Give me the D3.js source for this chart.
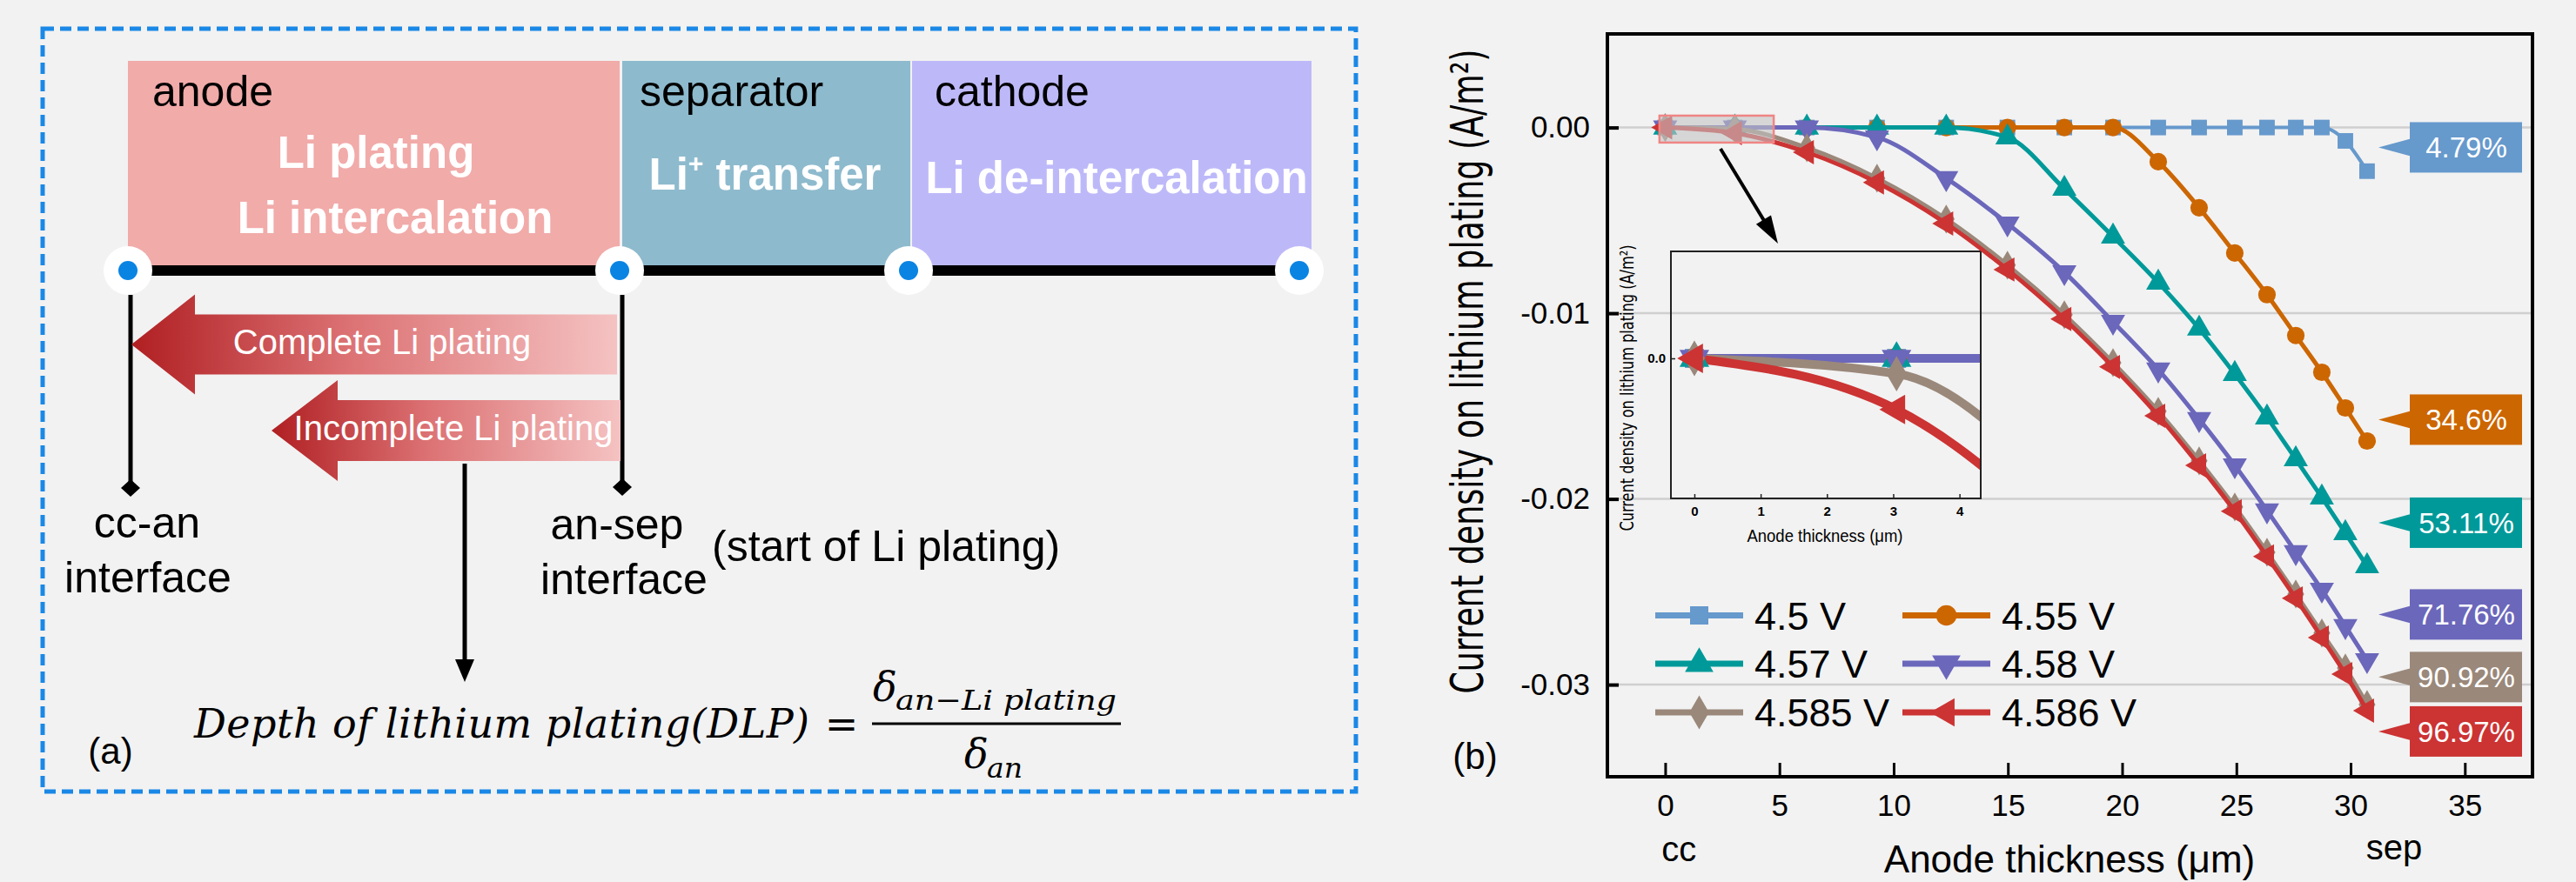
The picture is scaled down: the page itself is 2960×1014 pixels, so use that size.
<!DOCTYPE html>
<html><head><meta charset="utf-8">
<script src="https://cdn.jsdelivr.net/npm/d3@7"></script>
<style>html,body{margin:0;padding:0;background:#f2f2f2;} svg{display:block;}</style>
</head><body><svg id="c" width="2960" height="1014"></svg>
<script>
// ---------------- DATA ----------------
const thickness = [0, 3.05, 6.2, 9.27, 12.3, 14.98, 17.47, 19.6, 21.58, 23.37, 24.93, 26.34, 27.6, 28.74, 29.77, 30.72];
const seriesNames = ["4.5 V", "4.55 V", "4.57 V", "4.58 V", "4.585 V", "4.586 V"];
const v4500 = [0, 0, 0, 0, 0, 0, 0, 0, 0, 0, 0, 0, 0, 0, -0.00072, -0.00235];
const v4550 = [0, 0, 0, 0, 0, 0, 0, 0, -0.00184, -0.00432, -0.00676, -0.0090, -0.0112, -0.01318, -0.01510, -0.01688];
const v4570 = [0, 0, 0, 0, 0, -0.00053, -0.0033, -0.00587, -0.00835, -0.01083, -0.01327, -0.01561, -0.01786, -0.01992, -0.02184, -0.02362];
const v4580 = [0, 0, 0, -0.00053, -0.00273, -0.00517, -0.00779, -0.01046, -0.01303, -0.0157, -0.01819, -0.02062, -0.02287, -0.02489, -0.02685, -0.02868];
const v4585 = [0, -0.00009, -0.00109, -0.00273, -0.00493, -0.00741, -0.01008, -0.01266, -0.01528, -0.01795, -0.02043, -0.02287, -0.02512, -0.02722, -0.0291, -0.03107];
const v4586 = [0, -0.0003, -0.00133, -0.00296, -0.00517, -0.00765, -0.01031, -0.01289, -0.01552, -0.01819, -0.02066, -0.0231, -0.02535, -0.02746, -0.02943, -0.0314];
const dlpLabels = ["4.79%", "34.6%", "53.11%", "71.76%", "90.92%", "96.97%"];
const dlpLabelY = [-0.00107, -0.01573, -0.02128, -0.02622, -0.02959, -0.03252];
const xTicks = [0, 5, 10, 15, 20, 25, 30, 35];
const yTicks = [0, -0.01, -0.02, -0.03];
const yTickLabels = ["0.00", "-0.01", "-0.02", "-0.03"];
const insetXTicks = [0, 1, 2, 3, 4];
const insetYTicks = [0];
const insetYTickLabels = ["0.0"];
const zoomWindowX = [-0.25, 4.75];
const zoomWindowY = [-0.00081, 0.00064];

// ---------------- STYLE ----------------
const colors = ["#6699cc", "#cc6600", "#009999", "#6b67bb", "#9a887a", "#cc3333"];
const symTypes = [d3.symbolSquare, d3.symbolCircle, d3.symbolTriangle, d3.symbolTriangle, d3.symbolDiamond, d3.symbolTriangle];
const symRot = [0, 0, 0, 180, 0, -90];
const symScale = [1, 1, 1.05, 1.05, 1.0, 1.05];
const SANS = "'Liberation Sans', Arial, sans-serif";

const allValues = [v4500, v4550, v4570, v4580, v4585, v4586];
const series = seriesNames.map((n, i) => ({
  name: n, color: colors[i], sym: symTypes[i], rot: symRot[i], k: symScale[i],
  pts: thickness.map((t, j) => [t, allValues[i][j]])
}));

const svg = d3.select("#c");
svg.append("rect").attr("width", 2960).attr("height", 1014).attr("fill", "#f2f2f2");
const defs = svg.append("defs");

// ================= PANEL (a) =================
const A = svg.append("g");
A.append("rect").attr("x", 49).attr("y", 33).attr("width", 1509).attr("height", 877)
  .attr("fill", "none").attr("stroke", "#1a88e6").attr("stroke-width", 5).attr("stroke-dasharray", "13 7");

const regions = [
  {name: "anode", x0: 147, x1: 712, fill: "#f1aba9"},
  {name: "separator", x0: 715, x1: 1046, fill: "#8ebacd"},
  {name: "cathode", x0: 1048, x1: 1507, fill: "#bdb9f9"}
];
regions.forEach(r => {
  A.append("rect").attr("x", r.x0).attr("y", 70).attr("width", r.x1 - r.x0).attr("height", 238).attr("fill", r.fill);
});
A.append("text").attr("x", 175).attr("y", 122).text("anode").attr("font-family", SANS).attr("font-size", 50).attr("fill", "#000");
A.append("text").attr("x", 735).attr("y", 122).text("separator").attr("font-family", SANS).attr("font-size", 50).attr("fill", "#000");
A.append("text").attr("x", 1074).attr("y", 122).text("cathode").attr("font-family", SANS).attr("font-size", 50).attr("fill", "#000");
const wb = (x, yy, t) => A.append("text").attr("x", x).attr("y", yy).attr("text-anchor", "middle")
  .attr("font-family", SANS).attr("font-weight", "bold").attr("font-size", 51).attr("fill", "#fff").text(t);
wb(432, 193, "Li plating");
wb(454, 268, "Li intercalation");
wb(1283, 222, "Li de-intercalation");
const lt = A.append("text").attr("x", 879).attr("y", 218).attr("text-anchor", "middle")
  .attr("font-family", SANS).attr("font-weight", "bold").attr("font-size", 51).attr("fill", "#fff");
lt.append("tspan").text("Li");
lt.append("tspan").text("+").attr("font-size", 30).attr("dy", -20);
lt.append("tspan").text(" transfer").attr("dy", 20);

A.append("line").attr("x1", 147).attr("x2", 1493).attr("y1", 311).attr("y2", 311).attr("stroke", "#000").attr("stroke-width", 12);
[147, 712, 1044, 1493].forEach(cx => {
  A.append("circle").attr("cx", cx).attr("cy", 311).attr("r", 28).attr("fill", "#fff");
  A.append("circle").attr("cx", cx).attr("cy", 311).attr("r", 11).attr("fill", "#0a84e3");
});

// vertical marker lines with diamonds
[[150, 561], [715, 560]].forEach(([vx, vy]) => {
  A.append("line").attr("x1", vx).attr("x2", vx).attr("y1", 339).attr("y2", vy).attr("stroke", "#000").attr("stroke-width", 5);
  A.append("path").attr("d", `M${vx},${vy - 10}L${vx + 11},${vy}L${vx},${vy + 10}L${vx - 11},${vy}Z`).attr("fill", "#000");
});

// gradient arrows
const grad = defs.append("linearGradient").attr("id", "ag").attr("x1", "0%").attr("x2", "100%").attr("y1", "0%").attr("y2", "0%");
grad.append("stop").attr("offset", "0%").attr("stop-color", "#b01f22");
grad.append("stop").attr("offset", "45%").attr("stop-color", "#dc7274");
grad.append("stop").attr("offset", "100%").attr("stop-color", "#f5c2c2");
function bigArrow(tipX, headX, endX, cy, bodyH, headH) {
  const pts = [[tipX, cy], [headX, cy - headH / 2], [headX, cy - bodyH / 2], [endX, cy - bodyH / 2],
    [endX, cy + bodyH / 2], [headX, cy + bodyH / 2], [headX, cy + headH / 2]];
  A.append("polygon").attr("points", pts.map(p => p.join(",")).join(" ")).attr("fill", "url(#ag)");
}
bigArrow(151, 224, 709, 396, 69, 115);
bigArrow(312, 388, 713, 495, 70, 116);
A.append("text").attr("x", 439).attr("y", 407).attr("text-anchor", "middle").attr("font-family", SANS)
  .attr("font-size", 40).attr("fill", "#fff").text("Complete Li plating");
A.append("text").attr("x", 521).attr("y", 506).attr("text-anchor", "middle").attr("font-family", SANS)
  .attr("font-size", 40).attr("fill", "#fff").text("Incomplete Li plating");

// down arrow
A.append("line").attr("x1", 534).attr("x2", 534).attr("y1", 533).attr("y2", 765).attr("stroke", "#000").attr("stroke-width", 5);
A.append("path").attr("d", "M523,758L545,758L534,784Z").attr("fill", "#000");

const lab = (x, yy, t, anchor) => A.append("text").attr("x", x).attr("y", yy).attr("text-anchor", anchor || "middle")
  .attr("font-family", SANS).attr("font-size", 50).attr("fill", "#000").text(t);
lab(169, 618, "cc-an");
lab(170, 681, "interface");
lab(709, 620, "an-sep");
lab(717, 683, "interface");
lab(818, 645, "(start of Li plating)", "start");
A.append("text").attr("x", 127).attr("y", 878).attr("text-anchor", "middle").attr("font-family", SANS)
  .attr("font-size", 42).text("(a)");

// formula
const SERIF = "'DejaVu Serif', 'Liberation Serif', serif";
A.append("text").attr("x", 223).attr("y", 848).attr("font-family", SERIF).attr("font-style", "italic")
  .attr("font-size", 46).attr("textLength", 707).attr("lengthAdjust", "spacing").text("Depth of lithium plating(DLP)");
A.append("text").attr("x", 967).attr("y", 848).attr("text-anchor", "middle").attr("font-family", SERIF)
  .attr("font-size", 46).text("=");
A.append("line").attr("x1", 1002).attr("x2", 1288).attr("y1", 832).attr("y2", 832).attr("stroke", "#000").attr("stroke-width", 3);
A.append("text").attr("x", 1003).attr("y", 806).attr("font-family", SERIF).attr("font-style", "italic").attr("font-size", 46).text("δ");
A.append("text").attr("x", 1029).attr("y", 816).attr("font-family", SERIF).attr("font-style", "italic").attr("font-size", 32)
  .attr("textLength", 254).attr("lengthAdjust", "spacingAndGlyphs").text("an−Li plating");
A.append("text").attr("x", 1108).attr("y", 883).attr("font-family", SERIF).attr("font-style", "italic").attr("font-size", 46).text("δ");
A.append("text").attr("x", 1134).attr("y", 894).attr("font-family", SERIF).attr("font-style", "italic").attr("font-size", 32)
  .attr("textLength", 41).attr("lengthAdjust", "spacingAndGlyphs").text("an");

// ================= PANEL (b) =================
const B = svg.append("g");
const x = d3.scaleLinear().domain([-2.53, 37.96]).range([1847, 2910]);
const y = d3.scaleLinear().domain([-0.03496, 0.00504]).range([893, 39]);

// gridlines
B.selectAll(".grid").data(yTicks).join("line")
  .attr("x1", 1847).attr("x2", 2910).attr("y1", d => y(d)).attr("y2", d => y(d))
  .attr("stroke", "#cfcfcf").attr("stroke-width", 2.5);

// ---- inset ----
const ix = d3.scaleLinear().domain([-0.354, 4.32]).range([1920, 2276]);
const iy = d3.scaleLinear().domain([-0.000822, 0.000628]).range([573, 289]);
defs.append("clipPath").attr("id", "insetClip").append("rect")
  .attr("x", 1920).attr("y", 289).attr("width", 356).attr("height", 284);
const I = B.append("g");
const IC = I.append("g").attr("clip-path", "url(#insetClip)");
const iline = d3.line().x(d => ix(d[0])).y(d => iy(d[1])).curve(d3.curveMonotoneX);
series.forEach(s => {
  IC.append("path").attr("d", iline(s.pts)).attr("fill", "none").attr("stroke", s.color).attr("stroke-width", 10);
});
series.forEach(s => {
  IC.selectAll(null).data(s.pts.filter(p => p[0] < 4.5)).join("path")
    .attr("d", d3.symbol().type(s.sym).size(480 * s.k))
    .attr("transform", d => `translate(${ix(d[0])},${iy(d[1])}) rotate(${s.rot})`)
    .attr("fill", s.color);
});
I.append("rect").attr("x", 1920).attr("y", 289).attr("width", 356).attr("height", 284)
  .attr("fill", "none").attr("stroke", "#222").attr("stroke-width", 2);
const ixAxis = I.append("g").attr("transform", "translate(0,573)")
  .call(d3.axisBottom(ix).tickValues(insetXTicks).tickFormat(d3.format("d")).tickSize(-5).tickPadding(9));
ixAxis.select(".domain").remove();
ixAxis.selectAll("line").attr("stroke", "#222").attr("stroke-width", 1.5);
ixAxis.selectAll("text").attr("font-family", SANS).attr("font-weight", "bold").attr("font-size", 15).attr("fill", "#000");
const iyAxis = I.append("g").attr("transform", "translate(1920,0)")
  .call(d3.axisLeft(iy).tickValues(insetYTicks).tickFormat((d, i) => insetYTickLabels[i]).tickSize(-5).tickPadding(6));
iyAxis.select(".domain").remove();
iyAxis.selectAll("line").attr("stroke", "#222").attr("stroke-width", 1.5);
iyAxis.selectAll("text").attr("font-family", SANS).attr("font-weight", "bold").attr("font-size", 15).attr("fill", "#000");
I.append("text").attr("x", 2097).attr("y", 623).attr("text-anchor", "middle").attr("font-family", SANS)
  .attr("font-size", 20).attr("textLength", 179).attr("lengthAdjust", "spacingAndGlyphs").text("Anode thickness (μm)");
I.append("text").attr("transform", "translate(1877,446) rotate(-90) scale(0.77,1)").attr("text-anchor", "middle")
  .attr("font-family", "'DejaVu Sans', Verdana, sans-serif").attr("font-size", 21)
  .text("Current density on lithium plating (A/m²)");

// ---- main lines ----
const line = d3.line().x(d => x(d[0])).y(d => y(d[1])).curve(d3.curveMonotoneX);
series.forEach((s, i) => {
  B.append("path").attr("d", line(s.pts)).attr("fill", "none").attr("stroke", s.color)
    .attr("stroke-width", i === 0 ? 4 : 5).attr("stroke-linejoin", "round");
  B.selectAll(null).data(s.pts).join("path")
    .attr("d", d3.symbol().type(s.sym).size(320 * s.k))
    .attr("transform", d => `translate(${x(d[0])},${y(d[1])}) rotate(${s.rot})`)
    .attr("fill", s.color);
});

// zoom window rectangle
B.append("rect").attr("x", x(zoomWindowX[0])).attr("y", y(zoomWindowY[1]))
  .attr("width", x(zoomWindowX[1]) - x(zoomWindowX[0])).attr("height", y(zoomWindowY[0]) - y(zoomWindowY[1]))
  .attr("fill", "rgba(195,195,195,0.6)").attr("stroke", "#f08585").attr("stroke-width", 2.5);

// pointer arrow to inset
(function () {
  const x1 = 1977, y1 = 171, x2 = 2043, y2 = 280;
  const L = Math.hypot(x2 - x1, y2 - y1), ux = (x2 - x1) / L, uy = (y2 - y1) / L;
  const hl = 32, hw = 10;
  const bx = x2 - ux * hl, by = y2 - uy * hl;
  B.append("line").attr("x1", x1).attr("y1", y1).attr("x2", bx + ux * 4).attr("y2", by + uy * 4)
    .attr("stroke", "#000").attr("stroke-width", 4);
  B.append("path").attr("d", `M${x2},${y2}L${bx - uy * hw},${by + ux * hw}L${bx + uy * hw},${by - ux * hw}Z`).attr("fill", "#000");
})();

// ---- legend ----
const legRowY = [707.5, 763, 819];
const legLineX = [1902, 2186];
const legTextX = [2016, 2300];
series.forEach((s, i) => {
  const c = i % 2, r = Math.floor(i / 2);
  const g = B.append("g");
  g.append("line").attr("x1", legLineX[c]).attr("x2", legLineX[c] + 101).attr("y1", legRowY[r]).attr("y2", legRowY[r])
    .attr("stroke", s.color).attr("stroke-width", 7);
  g.append("path").attr("d", d3.symbol().type(s.sym).size(440 * s.k))
    .attr("transform", `translate(${legLineX[c] + 50.5},${legRowY[r]}) rotate(${s.rot})`).attr("fill", s.color);
  g.append("text").attr("x", legTextX[c]).attr("y", legRowY[r] + 16).attr("font-family", SANS)
    .attr("font-size", 45).attr("fill", "#000").text(s.name);
});

// ---- DLP callouts ----
dlpLabels.forEach((t, i) => {
  const cy = y(dlpLabelY[i]);
  B.append("path").attr("d", `M2733,${cy}L2770,${cy - 10}L2770,${cy + 10}Z`).attr("fill", colors[i]);
  B.append("rect").attr("x", 2769).attr("y", cy - 29).attr("width", 129).attr("height", 58).attr("fill", colors[i]);
  B.append("text").attr("x", 2834).attr("y", cy + 12).attr("text-anchor", "middle").attr("font-family", SANS)
    .attr("font-size", 33).attr("fill", "#fff").text(t);
});

// ---- axes & frame ----
const xAxis = B.append("g").attr("transform", "translate(0,893)")
  .call(d3.axisBottom(x).tickValues(xTicks).tickFormat(d3.format("d")).tickSize(-16).tickPadding(20));
xAxis.select(".domain").remove();
xAxis.selectAll("line").attr("stroke", "#000").attr("stroke-width", 3);
xAxis.selectAll("text").attr("font-family", SANS).attr("font-size", 35).attr("fill", "#000");
const yAxis = B.append("g").attr("transform", "translate(1847,0)")
  .call(d3.axisLeft(y).tickValues(yTicks).tickFormat((d, i) => yTickLabels[i]).tickSize(-13).tickPadding(20));
yAxis.select(".domain").remove();
yAxis.selectAll("line").attr("stroke", "#000").attr("stroke-width", 4);
yAxis.selectAll("text").attr("font-family", SANS).attr("font-size", 35).attr("fill", "#000");

B.append("rect").attr("x", 1847).attr("y", 39).attr("width", 1063).attr("height", 854)
  .attr("fill", "none").attr("stroke", "#000").attr("stroke-width", 4);

B.append("text").attr("x", x(0.6)).attr("y", 990).attr("text-anchor", "middle").attr("font-family", SANS)
  .attr("font-size", 40).text("cc");
B.append("text").attr("x", x(31.9)).attr("y", 988).attr("text-anchor", "middle").attr("font-family", SANS)
  .attr("font-size", 40).text("sep");
B.append("text").attr("x", 2378).attr("y", 1003).attr("text-anchor", "middle").attr("font-family", SANS)
  .attr("font-size", 44).text("Anode thickness (μm)");
B.append("text").attr("transform", "translate(1704,427) rotate(-90) scale(0.7,1)").attr("text-anchor", "middle")
  .attr("font-family", "'DejaVu Sans', Verdana, sans-serif").attr("font-size", 52)
  .text("Current density on lithium plating (A/m²)");
B.append("text").attr("x", 1695).attr("y", 884).attr("text-anchor", "middle").attr("font-family", SANS)
  .attr("font-size", 42).text("(b)");
</script></body></html>
